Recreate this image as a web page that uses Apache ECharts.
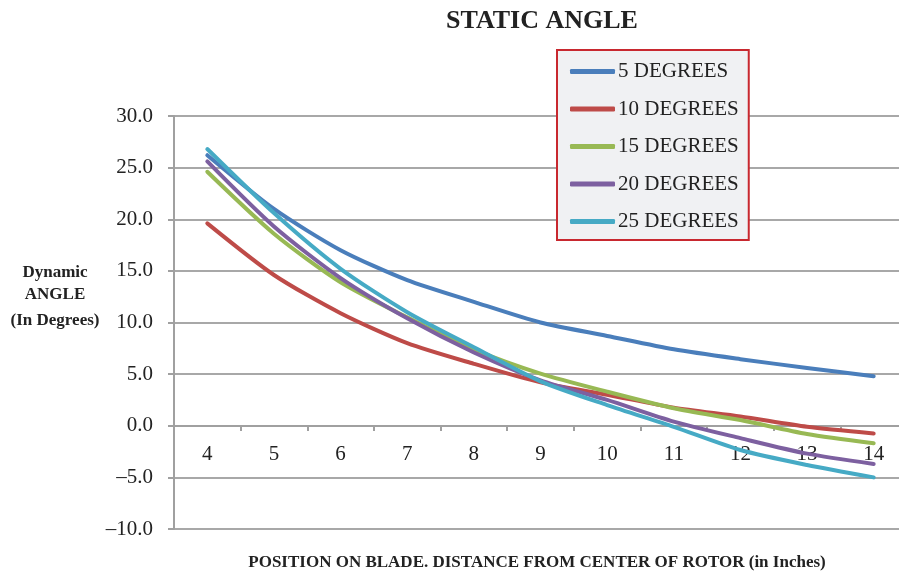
<!DOCTYPE html>
<html>
<head>
<meta charset="utf-8">
<script src="https://cdn.jsdelivr.net/npm/echarts@6/dist/echarts.min.js"></script>
<style>html,body{margin:0;padding:0;background:#fff}#c{width:899px;height:575px}</style>
</head>
<body>
<div id="c"></div>
<script>
const categories = ['4','5','6','7','8','9','10','11','12','13','14'];
const seriesNames = ['5 DEGREES','10 DEGREES','15 DEGREES','20 DEGREES','25 DEGREES'];
const deg5  = [26.2, 21.0, 17.0, 14.1, 12.0, 10.0, 8.7, 7.4, 6.45, 5.6, 4.8];
const deg10 = [19.6, 14.6, 10.9, 8.0, 6.0, 4.2, 3.0, 1.75, 0.9, -0.1, -0.75];
const deg15 = [24.6, 18.6, 13.9, 10.5, 7.4, 5.05, 3.3, 1.7, 0.55, -0.8, -1.7];
const deg20 = [25.6, 19.3, 14.3, 10.4, 7.1, 4.4, 2.5, 0.4, -1.2, -2.7, -3.7];
const deg25 = [26.8, 20.6, 15.2, 11.0, 7.6, 4.3, 2.0, -0.1, -2.35, -3.8, -5.0];
const colors = ['#4a7ebb','#be4b48','#98b954','#7d60a0','#46aac5'];
const allData = [deg5, deg10, deg15, deg20, deg25];

const serif = "'Liberation Serif','Times New Roman',serif";
const chart = echarts.init(document.getElementById('c'), null, {renderer:'canvas'});
chart.setOption({
  animation: false,
  backgroundColor: '#fff',
  title: {
    text: 'STATIC ANGLE',
    left: 537, top: 3, textAlign: 'center',
    textStyle: {fontFamily: serif, fontWeight: 'bold', fontSize: 26, color: '#222'}
  },
  legend: {
    orient: 'vertical',
    left: 557, top: 50,
    data: seriesNames,
    icon: 'roundRect',
    itemWidth: 45, itemHeight: 5,
    itemGap: 16.5,
    padding: [11, 10, 8, 13],
    backgroundColor: '#f0f1f3',
    borderColor: '#c8282f',
    borderWidth: 2,
    borderRadius: 0,
    textStyle: {fontFamily: serif, fontSize: 21, color: '#222', padding: [0,0,0,-2]}
  },
  grid: {left: 174, right: -8, top: 116, bottom: 46, containLabel: false, outerBoundsMode: 'none'},
  xAxis: {
    type: 'category',
    data: categories,
    boundaryGap: true,
    position: 'bottom',
    offset: -103,
    axisLine: {onZero: false, lineStyle: {color: '#a0a0a0', width: 2}},
    axisTick: {show: true, length: 5, interval: 0, alignWithLabel: false, lineStyle: {color: '#a0a0a0', width: 2}},
    axisLabel: {interval: 0, margin: 18, fontFamily: serif, fontSize: 21, color: '#222'},
    splitLine: {show: false}
  },
  yAxis: {
    type: 'value',
    min: -10, max: 30, interval: 5,
    axisLine: {show: true, lineStyle: {color: '#a0a0a0', width: 2}},
    axisTick: {show: true, length: 6, lineStyle: {color: '#a0a0a0', width: 2}},
    axisLabel: {
      margin: 21, fontFamily: serif, fontSize: 21, color: '#222',
      formatter: v => (v < 0 ? '\u2013' + Math.abs(v).toFixed(1) : v.toFixed(1))
    },
    splitLine: {show: true, lineStyle: {color: '#a8a8a8', width: 2}}
  },
  graphic: [
    {type: 'text', x: 55, y: 273, style: {text: 'Dynamic', fontFamily: serif, fontWeight: 'bold', fontSize: 17, fill: '#222', align: 'center', verticalAlign: 'middle'}},
    {type: 'text', x: 55, y: 295, style: {text: 'ANGLE', fontFamily: serif, fontWeight: 'bold', fontSize: 17, fill: '#222', align: 'center', verticalAlign: 'middle'}},
    {type: 'text', x: 55, y: 321, style: {text: '(In Degrees)', fontFamily: serif, fontWeight: 'bold', fontSize: 17, fill: '#222', align: 'center', verticalAlign: 'middle'}},
    {type: 'text', x: 537, y: 563, style: {text: 'POSITION ON BLADE. DISTANCE FROM CENTER OF ROTOR (in Inches)', fontFamily: serif, fontWeight: 'bold', fontSize: 17, fill: '#222', align: 'center', verticalAlign: 'middle'}}
  ],
  series: seriesNames.map((n, i) => ({
    name: n,
    type: 'line',
    data: allData[i],
    smooth: 0.25,
    symbol: 'none',
    color: colors[i],
    lineStyle: {color: colors[i], width: 4, cap: 'round', join: 'round'},
    itemStyle: {color: colors[i]}
  }))
});
</script>
</body>
</html>
